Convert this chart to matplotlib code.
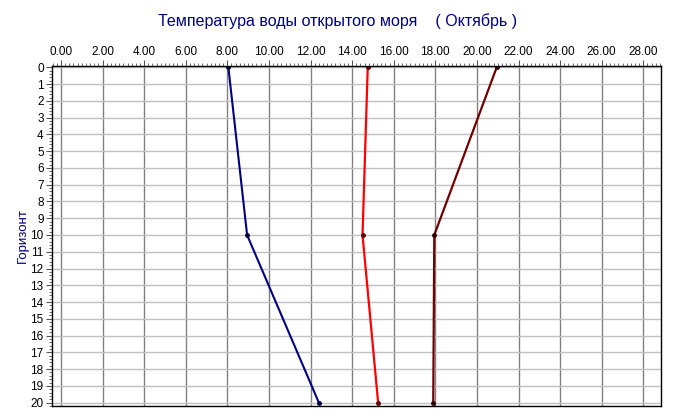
import numpy as np
import matplotlib.pyplot as plt
from matplotlib.ticker import MultipleLocator, FormatStrFormatter

plt.rcParams['font.family'] = ['Liberation Sans', 'DejaVu Sans']

# горизонты и температура
depth = [0, 10, 20]
t_navy = [8.05, 8.95, 12.4]
t_red = [14.75, 14.5, 15.25]
t_dark = [20.95, 17.95, 17.9]

fig = plt.figure(figsize=(6.75, 4.19), dpi=100)
ax = fig.add_axes([52/675, 1 - 406/419, (661-52)/675, (406-66)/419])

ax.plot(t_navy, depth, color='#000080', lw=1.5, marker='o', ms=2.5, mfc='#000040', mec='#000040')
ax.plot(t_red, depth, color='#ff0000', lw=1.6, marker='o', ms=2.5, mfc='#600000', mec='#600000')
ax.plot(t_dark, depth, color='#700000', lw=1.6, marker='o', ms=2.5, mfc='#300000', mec='#300000')

ax.set_xlim(-0.43, 28.85)
ax.set_ylim(20.2, -0.08)

ax.xaxis.tick_top()
ax.xaxis.set_major_locator(MultipleLocator(2))
ax.xaxis.set_minor_locator(MultipleLocator(0.2))
ax.xaxis.set_major_formatter(FormatStrFormatter('%.2f'))
ax.yaxis.set_major_locator(MultipleLocator(1))
ax.yaxis.set_minor_locator(MultipleLocator(0.2))

ax.tick_params(axis='both', which='major', labelsize=8.5, length=4, width=0.8, color='#555555', pad=2)
ax.tick_params(axis='both', which='minor', length=2, width=0.6, color='#555555')
ax.tick_params(axis='x', which='both', top=True, bottom=False)

ax.grid(True, axis='x', color='#808080', lw=1)
ax.grid(True, axis='y', color='#c0c0c0', lw=1)
ax.set_axisbelow(True)
for s in ax.spines.values():
    s.set_color('black')
    s.set_linewidth(1)

ax.set_ylabel('Горизонт', color='#000080', fontsize=9.5, labelpad=1)
fig.text(0.5, 1 - 21/419, 'Температура воды открытого моря    ( Октябрь )',
         ha='center', va='center', color='#000080', fontsize=11.5)

fig.savefig('out.png', dpi=100)
